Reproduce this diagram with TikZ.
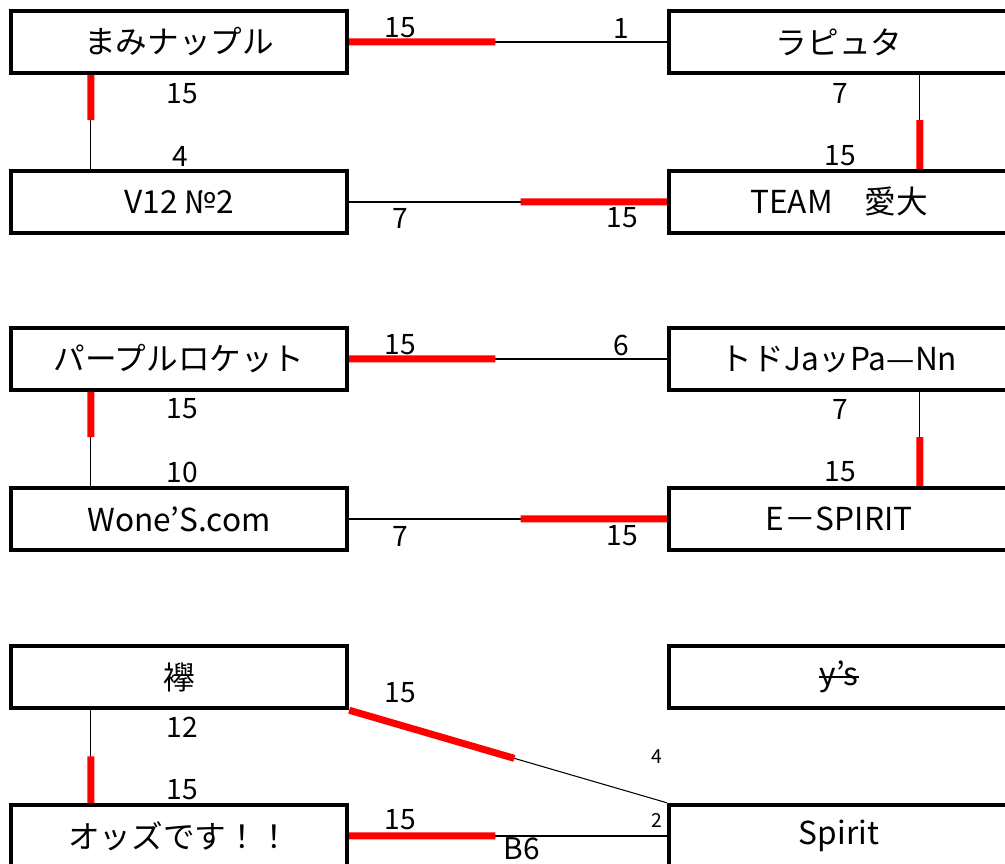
\documentclass[tikz,border=0pt]{standalone}
\usepackage{fontspec}
\setmainfont{Noto Sans CJK JP}
\usetikzlibrary{calc}

\begin{document}
\begin{tikzpicture}[x=0.02cm,y=-0.02cm,
				team/.style={draw,line width=0.09cm,minimum width=6.72cm,minimum height=1.24cm,inner sep=0pt,font=\fontsize{18}{18}\selectfont},
				far team/.style={team,minimum width=6.8cm},
				score/.style={inner sep=0pt,font=\fontsize{16}{16}\selectfont},
				small score/.style={inner sep=0pt,font=\fontsize{11}{11}\selectfont},
				link/.style={line width=0.6pt},
				won/.style={red,line width=0.14cm}]
\clip (0,0) rectangle (1005,864);
\node[team] (mami) at (179,42) {まみナップル};
\node[far team] (laputa) at (839,42) {ラピュタ};
\node[team] (v12) at (179,202) {V12 №2};
\node[far team] (aidai) at (839,202) {TEAM　愛大};
\node[team] (purple) at (179,359) {パープルロケット};
\node[far team] (todo) at (839,359) {トドJaッPa—Nn};
\node[team] (wone) at (179,519) {Wone’S.com};
\node[far team] (espirit) at (839,519) {E－SPIRIT};
\node[team] (tasuki) at (179,677) {襷};
\node[far team] (ys) at (839,677) {};
\node[inner sep=0pt,font=\fontsize{18}{18}\selectfont] (ystext) at (ys) {y’s};
\draw[line width=1pt] (ystext.west) -- (ystext.east);
\node[team] (odds) at (179,836) {オッズです！！};
\node[far team] (spirit) at (839,836) {Spirit};
\foreach \t in {mami,purple}
	\coordinate (\t-s) at ($(\t.south west)+(82,0)$);
\foreach \t in {v12,wone,odds}
	\coordinate (\t-n) at ($(\t.north west)+(82,0)$);
\coordinate (tasuki-s) at ($(tasuki.south west)+(82,0)$);
\foreach \t in {laputa,todo}
	\coordinate (\t-s) at ($(\t.south west)+(253,0)$);
\foreach \t in {aidai,espirit}
	\coordinate (\t-n) at ($(\t.north west)+(253,0)$);
\foreach \a/\b/\f in {mami.east/laputa.west/0.46, mami-s/v12-n/0.48,
				aidai-n/laputa-s/0.52, aidai.west/v12.east/0.46,
				purple.east/todo.west/0.46, purple-s/wone-n/0.48,
				espirit-n/todo-s/0.52, espirit.west/wone.east/0.46,
				odds-n/tasuki-s/0.5, tasuki.south east/spirit.north west/0.52,
				odds.east/spirit.west/0.46}
{
	\draw[link] (\a) -- (\b);
	\draw[won] (\a) -- ($(\a)!\f!(\b)$);
}
\foreach \x/\y/\t [count=\i] in {400/28/15, 621/28/1, 182/94/15, 180/156/4,
				840/93/7, 840/156/15, 400/218/7, 622/218/15,
				400/345/15, 621/345/6, 182/409/15, 182/472/10,
				840/409/7, 840/472/15, 400/536/7, 622/536/15,
				400/693/15, 182/727/12, 182/790/15, 400/820/15}
	\node[score] (score\i) at (\x,\y) {\t};
\node[score,font=\fontsize{17}{17}\selectfont] (block) at (522,849) {B6};
\node[small score] (four) at (657,757) {4};
\node[small score] (two) at (657,820) {2};
\end{tikzpicture}
\end{document}
